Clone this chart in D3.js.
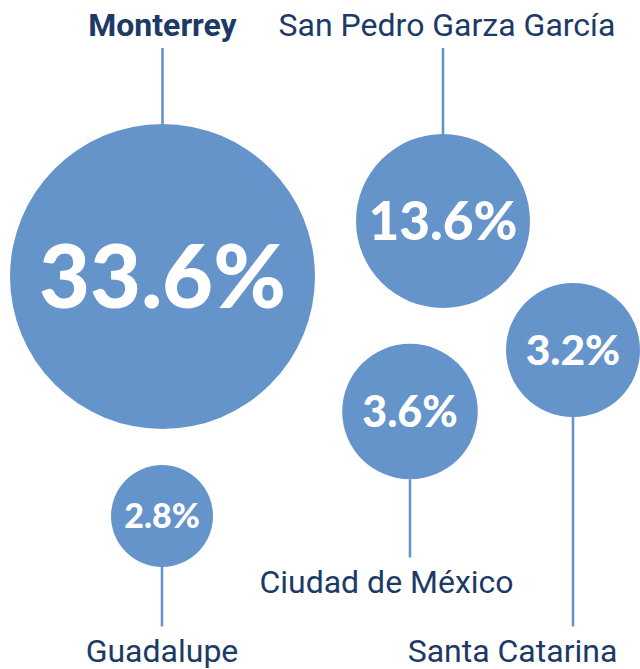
<!DOCTYPE html>
<html>
<head>
<meta charset="utf-8">
<script src="https://cdn.jsdelivr.net/npm/d3@7"></script>
<style>
  body { margin: 0; background: #fff; }
  svg { display: block; }
</style>
</head>
<body>
<div id="vis-holder"></div>
<script>
// Data
const cities = ["Monterrey", "San Pedro Garza García", "Ciudad de México", "Santa Catarina", "Guadalupe"];
const shares = [33.6, 13.6, 3.6, 3.2, 2.8];
const highlight = ["Monterrey"];

// Layout (hand placed bubbles, no axes)
const width = 640;
const height = 669;
const centerX = [162.5, 443, 410, 573, 162];
const centerY = [276.5, 221, 411.5, 350, 516];
const labelSide = ["top", "top", "bottom", "bottom", "bottom"];
const labelShift = [0, 4, -23.5, -60.5, 0];   // label centre offset from the leader line
const topBaseline = 36;
const bottomBaseline = [null, null, 593, 662, 662];

const circleColor = "#6594cb";
const textColor = "#1c3a66";

const data = cities.map((c, i) => ({
  city: c, value: shares[i], cx: centerX[i], cy: centerY[i],
  side: labelSide[i], shift: labelShift[i], base: bottomBaseline[i]
}));

// bubble size is not strictly proportional in the original, so use a piecewise scale
const r = d3.scaleLinear()
            .domain([2.8, 3.2, 13.6, 33.6])
            .range([51, 67, 87, 152.5]);

const fontSize = d3.scaleLinear()
            .domain([51, 152.5])
            .range([34, 88]);

const svg = d3.select("#vis-holder")
              .append("svg")
              .attr("width", width)
              .attr("height", height);

// leader lines
svg.selectAll(".leader")
   .data(data)
   .enter()
   .append("line")
   .attr("class", "leader")
   .attr("x1", (d) => d.cx)
   .attr("x2", (d) => d.cx)
   .attr("y1", (d) => d.side === "top" ? topBaseline + 12 : d.cy + r(d.value))
   .attr("y2", (d) => d.side === "top" ? d.cy - r(d.value) : d.base - 35.5)
   .attr("stroke", circleColor)
   .attr("stroke-width", 2.6);

// bubbles
svg.selectAll(".bubble")
   .data(data)
   .enter()
   .append("circle")
   .attr("class", "bubble")
   .attr("cx", (d) => d.cx)
   .attr("cy", (d) => d.cy)
   .attr("r", (d) => r(d.value))
   .attr("fill", circleColor);

// values inside bubbles
svg.selectAll(".value")
   .data(data)
   .enter()
   .append("text")
   .attr("class", "value")
   .attr("x", (d) => d.cx)
   .attr("y", (d) => d.cy)
   .attr("dy", "0.36em")
   .attr("text-anchor", "middle")
   .attr("font-family", "Lato, sans-serif")
   .attr("font-weight", 900)
   .attr("font-size", (d) => fontSize(r(d.value)) + "px")
   .attr("fill", "#fff")
   .text((d) => d.value.toFixed(1) + "%");

// city names
svg.selectAll(".name")
   .data(data)
   .enter()
   .append("text")
   .attr("class", "name")
   .attr("x", (d) => d.cx + d.shift)
   .attr("y", (d) => d.side === "top" ? topBaseline : d.base)
   .attr("text-anchor", "middle")
   .attr("font-family", "Roboto, sans-serif")
   .attr("font-size", "32px")
   .attr("font-weight", (d) => highlight.includes(d.city) ? 700 : 400)
   .attr("fill", textColor)
   .text((d) => d.city);
</script>
</body>
</html>
